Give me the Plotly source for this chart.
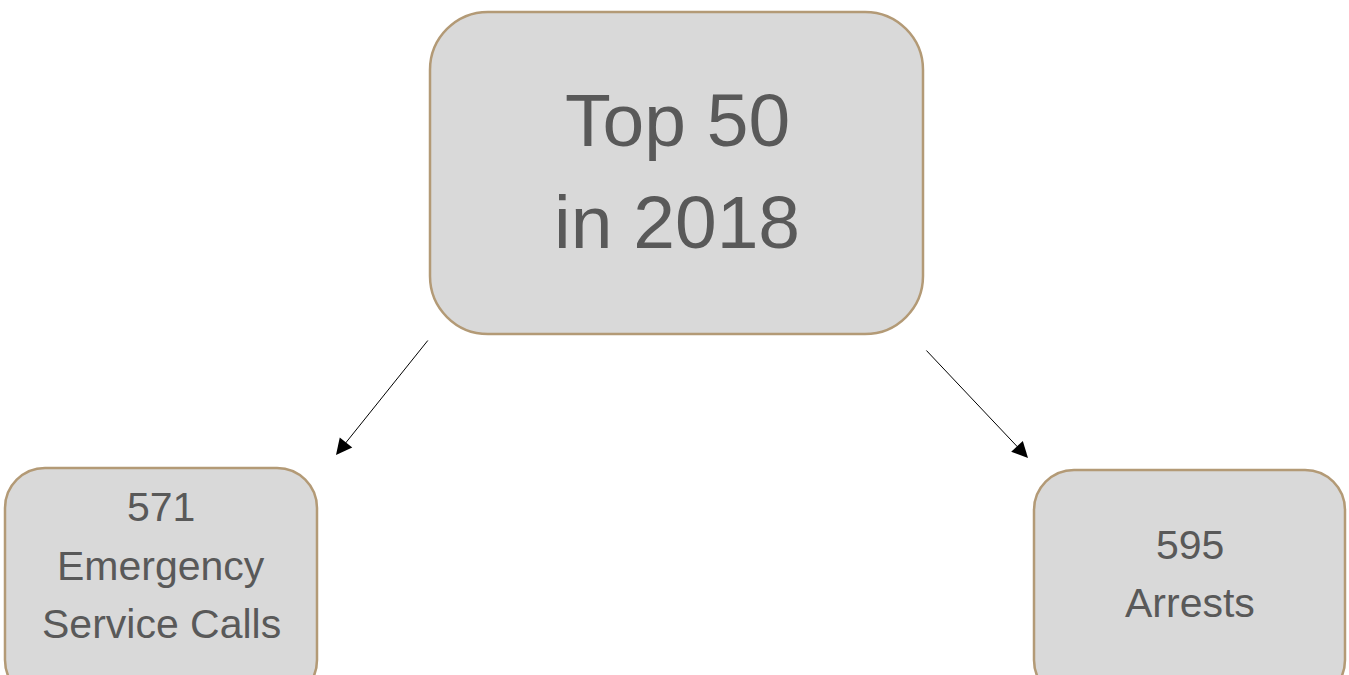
import plotly.graph_objects as go

# ---- data ----
top_lines = ["Top 50", "in 2018"]
counts = [571, 595]
count_labels = [["Emergency", "Service Calls"], ["Arrests"]]

W, H = 1349, 675
FILL = "#D9D9D9"
BORDER = "#B39A76"
TEXT = "#595959"
FONT = "Liberation Sans, Arial, sans-serif"

K = 0.5523

def rrect(x0, y0, x1, y1, r):
    c = r * (1 - K)
    return (f"M {x0+r},{y0} L {x1-r},{y0} C {x1-c},{y0} {x1},{y0+c} {x1},{y0+r} "
            f"L {x1},{y1-r} C {x1},{y1-c} {x1-c},{y1} {x1-r},{y1} L {x0+r},{y1} "
            f"C {x0+c},{y1} {x0},{y1-c} {x0},{y1-r} L {x0},{y0+r} C {x0},{y0+c} {x0+c},{y0} {x0+r},{y0} Z")

boxes = [
    (430, 12, 923, 334, 58),
    (5, 468, 317, 700, 40),
    (1034, 470, 1345, 700, 40),
]

fig = go.Figure()
fig.add_trace(go.Scatter(x=[0, W], y=[0, H], mode="markers",
                         marker=dict(opacity=0), hoverinfo="skip", showlegend=False))

for (x0, y0, x1, y1, r) in boxes:
    fig.add_shape(type="path", path=rrect(x0, y0, x1, y1, r), xref="x", yref="y",
                  fillcolor=FILL, line=dict(color=BORDER, width=2.5), layer="below")

def add_line(text, x, ycap, fs):
    fig.add_annotation(text=text, x=x, y=ycap, xref="x", yref="y", showarrow=False,
                       xanchor="center", yanchor="middle", yshift=0.0,
                       font=dict(family=FONT, size=fs, color=TEXT))

# top box text
for t, yc in zip(top_lines, [120, 222]):
    add_line(t, 677, yc, 75)

# left box
left_lines = [str(counts[0])] + count_labels[0]
for t, yc in zip(left_lines, [507, 566, 624]):
    add_line(t, 161, yc, 41)

# right box
right_lines = [str(counts[1])] + count_labels[1]
for t, yc in zip(right_lines, [545, 603]):
    add_line(t, 1190, yc, 41)

# arrows
arrows = [((429, 339), (336, 455)), ((925, 349), (1028, 458))]
for (sx, sy), (ex, ey) in arrows:
    fig.add_annotation(x=ex, y=ey, ax=sx, ay=sy, xref="x", yref="y", axref="x", ayref="y",
                       showarrow=True, arrowhead=2, arrowsize=3.2, arrowwidth=1,
                       arrowcolor="#000000", text="")

fig.update_xaxes(range=[0, W], visible=False, fixedrange=True)
fig.update_yaxes(range=[H, 0], visible=False, fixedrange=True)
fig.update_layout(width=W, height=H, margin=dict(l=0, r=0, t=0, b=0),
                  paper_bgcolor="white", plot_bgcolor="white", showlegend=False)

fig.write_html("out.html", config={"displayModeBar": False},
               post_script="document.body.style.margin='0';document.body.style.overflow='hidden';")
